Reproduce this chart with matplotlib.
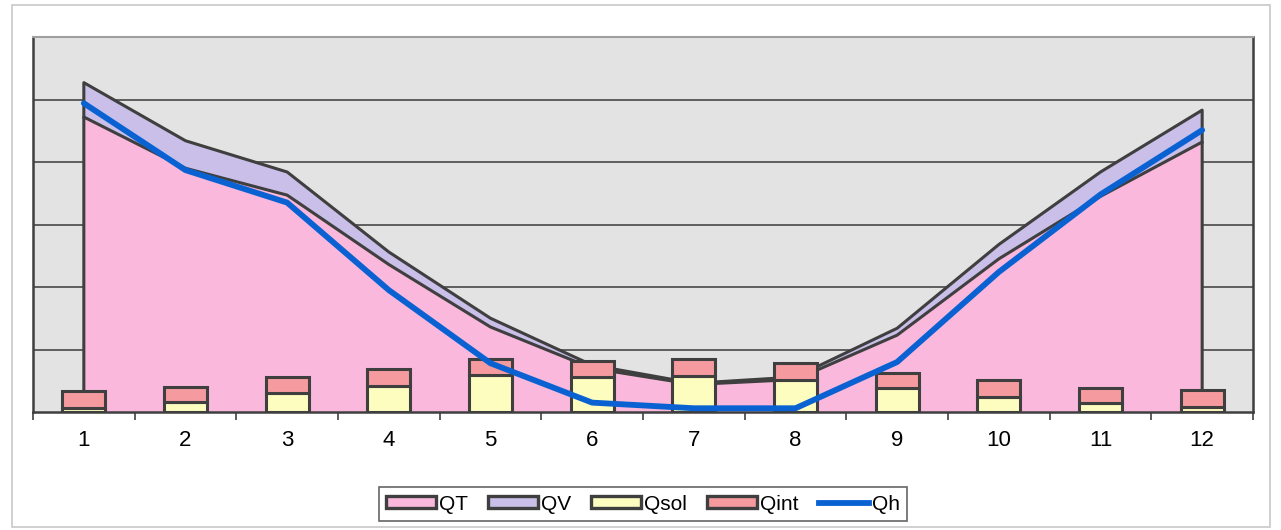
import matplotlib
matplotlib.use("Agg")
import matplotlib.pyplot as plt
from matplotlib.patches import Patch, Rectangle
from matplotlib.lines import Line2D
import numpy as np

plt.rcParams["font.family"] = ["Liberation Sans", "DejaVu Sans"]

months = [1, 2, 3, 4, 5, 6, 7, 8, 9, 10, 11, 12]
QT = [472, 390, 347, 236, 136, 70, 44, 52, 123, 245, 345, 432]
QV = [55, 44, 37, 20, 14, 5, 2, 4, 11, 23, 39, 51]
Qsol = [6, 16, 30, 42, 59, 56, 58, 52, 38, 24, 14, 8]
Qint = [28, 24, 26, 27, 26, 26, 27, 26, 24, 27, 24, 27]
Qh = [494, 387, 335, 195, 78, 15, 6, 6, 80, 224, 348, 451]
labels = ["QT", "QV", "Qsol", "Qint", "Qh"]

c_qt = "#f9b8dc"
c_qv = "#c9bfe9"
c_sol = "#fdfdc0"
c_int = "#f59a9e"
c_qh = "#0a62d2"
c_edge = "#3f3f3f"

fig = plt.figure(figsize=(12.81, 5.30), dpi=100)
fig.patches.append(Rectangle((12/1281, 3/530), 1258/1281, 522/530, transform=fig.transFigure,
                             fill=False, edgecolor="#c8c8c8", linewidth=1.2, zorder=0))
ax = fig.add_axes([33/1281, 118/530, 1220/1281, 375/530])
ax.set_facecolor("#e3e3e3")

x = np.array(months, dtype=float)
qt = np.array(QT, dtype=float)
qv_top = qt + np.array(QV, dtype=float)

ax.fill_between(x, 0, qt, facecolor=c_qt, edgecolor="none", zorder=2)
ax.fill_between(x, qt, qv_top, facecolor=c_qv, edgecolor="none", zorder=2)
ax.plot(np.r_[x[0], x, x[-1]], np.r_[0, qt, 0], color=c_edge, lw=2.2, zorder=3)
ax.plot(np.r_[x[0], x, x[-1]], np.r_[qt[0], qv_top, qt[-1]], color=c_edge, lw=2.2, zorder=3)

ax.bar(x, Qsol, width=0.42, color=c_sol, edgecolor=c_edge, linewidth=2.2, zorder=4)
ax.bar(x, Qint, width=0.42, bottom=Qsol, color=c_int, edgecolor=c_edge, linewidth=2.2, zorder=4)

ax.plot(x, Qh, color=c_qh, lw=4.2, solid_capstyle="round", zorder=5)

ax.set_xlim(0.5, 12.5)
ax.set_ylim(0, 600)
ax.set_yticks([100, 200, 300, 400, 500])
ax.yaxis.grid(True, color="#3a3a3a", linewidth=1.1)
ax.set_axisbelow(True)
ax.tick_params(axis="y", left=False, labelleft=False)
ax.set_xticks(months)
ax.set_xticklabels([str(m) for m in months], fontsize=16)
ax.tick_params(axis="x", length=0, pad=13)
ax.set_xticks(np.arange(0.5, 13, 1.0), minor=True)
ax.tick_params(axis="x", which="minor", length=6, width=1.2, color=c_edge, direction="out")

for s in ["left", "bottom", "right"]:
    ax.spines[s].set_color(c_edge)
    ax.spines[s].set_linewidth(1.8)
ax.spines["top"].set_color("#a0a0a0")
ax.spines["top"].set_linewidth(1.5)

handles = [
    Patch(facecolor=c_qt, edgecolor=c_edge, linewidth=2.4),
    Patch(facecolor=c_qv, edgecolor=c_edge, linewidth=2.4),
    Patch(facecolor=c_sol, edgecolor=c_edge, linewidth=2.4),
    Patch(facecolor=c_int, edgecolor=c_edge, linewidth=2.4),
    Line2D([0], [0], color=c_qh, lw=4.2),
]
leg = fig.legend(handles, labels, loc="center", bbox_to_anchor=(643/1281, 1 - 504/530),
                 ncol=5, fontsize=15, frameon=True, fancybox=False, edgecolor=c_edge,
                 handlelength=2.4, handleheight=0.5, handletextpad=0.15, columnspacing=0.95,
                 borderpad=0.35)
leg.get_frame().set_linewidth(1.2)

fig.savefig("out.png", dpi=100)
